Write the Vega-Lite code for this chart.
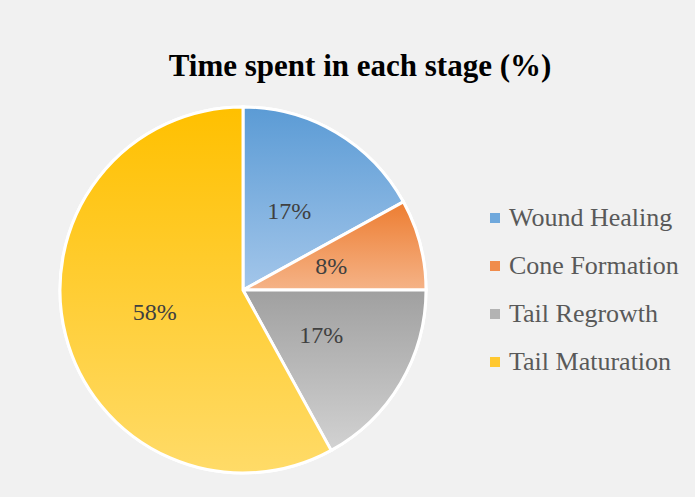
{
  "$schema": "https://vega.github.io/schema/vega-lite/v6.json",
  "width": 366,
  "height": 366,
  "autosize": {"type": "none"},
  "padding": {"left": 60, "top": 107, "right": 269, "bottom": 24},
  "background": "#f1f1f1",
  "title": {
    "text": "Time spent in each stage (%)",
    "font": "Liberation Serif",
    "fontSize": 31,
    "fontWeight": "bold",
    "color": "#000000",
    "anchor": "middle",
    "frame": "group",
    "dx": 117,
    "offset": 18
  },
  "data": {
    "values": [
      {"stage": "Wound Healing", "value": 17, "ord": 1, "label": "17%"},
      {"stage": "Cone Formation", "value": 8, "ord": 2, "label": "8%"},
      {"stage": "Tail Regrowth", "value": 17, "ord": 3, "label": "17%"},
      {"stage": "Tail Maturation", "value": 58, "ord": 4, "label": "58%"}
    ]
  },
  "config": {"view": {"stroke": null}},
  "layer": [
    {
      "mark": {"type": "arc", "outerRadius": 183, "stroke": "#ffffff", "strokeWidth": 3},
      "encoding": {
        "theta": {"field": "value", "type": "quantitative", "stack": true},
        "order": {"field": "ord", "type": "quantitative"},
        "color": {
          "field": "stage",
          "type": "nominal",
          "sort": ["Wound Healing", "Cone Formation", "Tail Regrowth", "Tail Maturation"],
          "scale": {
            "domain": ["Wound Healing", "Cone Formation", "Tail Regrowth", "Tail Maturation"],
            "range": ["#6fa8dc", "#f08c4c", "#b3b3b3", "#ffc830"]
          },
          "legend": {
            "title": null,
            "orient": "none",
            "legendX": 422,
            "legendY": 98,
            "symbolType": "square",
            "symbolSize": 100,
            "symbolStrokeWidth": 0,
            "labelFont": "Liberation Serif",
            "labelFontSize": 26,
            "labelColor": "#595959",
            "labelOffset": 1,
            "rowPadding": 22,
            "labelLimit": 300
          }
        }
      }
    },
    {
      "mark": {"type": "arc", "outerRadius": 183, "stroke": "#ffffff", "strokeWidth": 3},
      "encoding": {
        "theta": {"field": "value", "type": "quantitative", "stack": true},
        "order": {"field": "ord", "type": "quantitative"},
        "detail": {"field": "stage", "type": "nominal"},
        "fill": {
          "condition": [
            {"test": "datum.stage === 'Wound Healing'", "value": {"gradient": "linear", "x1": 0, "y1": 0, "x2": 0, "y2": 1, "stops": [{"offset": 0, "color": "#5b9bd5"}, {"offset": 1, "color": "#a3c6ea"}]}},
            {"test": "datum.stage === 'Cone Formation'", "value": {"gradient": "linear", "x1": 0, "y1": 0, "x2": 0, "y2": 1, "stops": [{"offset": 0, "color": "#ed7d31"}, {"offset": 1, "color": "#f5b387"}]}},
            {"test": "datum.stage === 'Tail Regrowth'", "value": {"gradient": "linear", "x1": 0, "y1": 0, "x2": 0, "y2": 1, "stops": [{"offset": 0, "color": "#a0a0a0"}, {"offset": 1, "color": "#d2d2d2"}]}}
          ],
          "value": {"gradient": "linear", "x1": 0, "y1": 0, "x2": 0, "y2": 1, "stops": [{"offset": 0, "color": "#ffc000"}, {"offset": 1, "color": "#ffdb68"}]}
        }
      }
    },
    {
      "mark": {"type": "text", "radius": 91, "font": "Liberation Serif", "fontSize": 24, "color": "#404040"},
      "encoding": {
        "theta": {"field": "value", "type": "quantitative", "stack": true},
        "order": {"field": "ord", "type": "quantitative"},
        "detail": {"field": "stage", "type": "nominal"},
        "text": {"field": "label", "type": "nominal"}
      }
    }
  ]
}
